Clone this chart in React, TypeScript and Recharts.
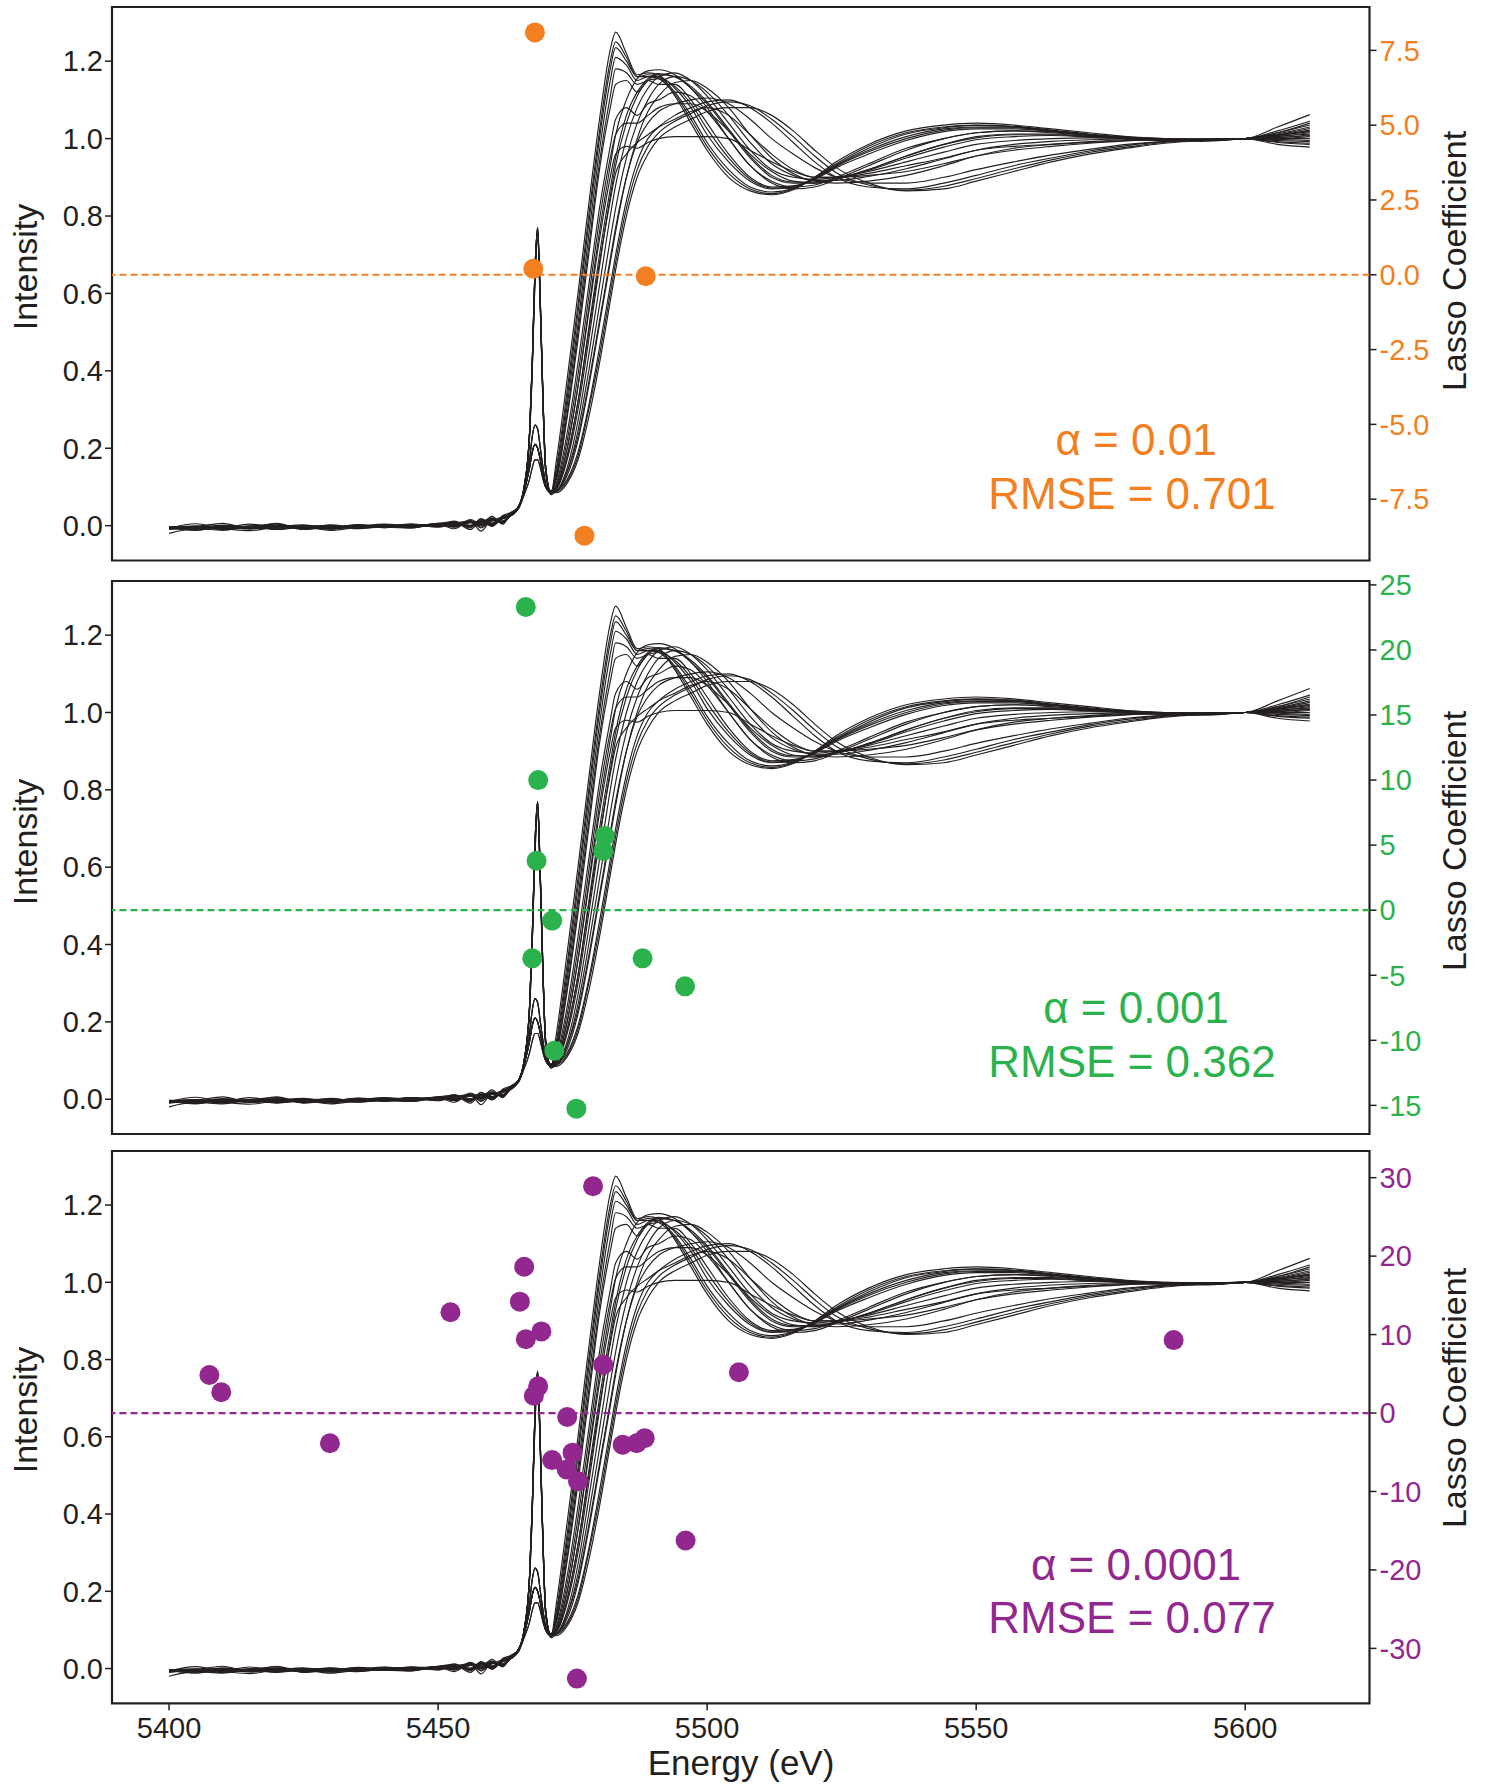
import React from 'react';
import {
    ComposedChart, Line, Scatter, XAxis, YAxis,
    ReferenceLine, ReferenceArea
} from 'recharts';

// energy grid shared by all spectra (eV)
const energies = [
    5400, 5405, 5410, 5415, 5420, 5425, 5430, 5435, 5440, 5445, 5450, 5453, 5456, 5458, 5460, 5462, 5463.5,
    5465, 5466, 5467, 5467.5, 5468, 5468.5, 5469, 5469.5, 5470, 5471,
    5472, 5474, 5476, 5478, 5480, 5482, 5483, 5485, 5487, 5489, 5491, 5494, 5497, 5500, 5504, 5508,
    5512, 5516, 5520, 5524, 5530, 5537, 5544, 5550, 5557, 5564, 5571, 5578, 5585, 5592, 5600, 5606, 5612,
];

// normalised spectra (same set in all three panels)
const specA1 = [
    -0.004, -0.002, 0.006, -0.008, -0.003, 0.002, -0.006, -0.002, -0.001, 0.003, 0.002, 0.012, -0.004, 0.018, 0.002, 0.022, 0.03,
    0.05, 0.1, 0.24, 0.42, 0.66, 0.77, 0.58, 0.33, 0.15, 0.085,
    0.17, 0.38, 0.6, 0.83, 1.05, 1.23, 1.275, 1.22, 1.165, 1.17, 1.165, 1.11, 1.04, 0.97, 0.9, 0.865,
    0.855, 0.868, 0.9, 0.94, 0.985, 1.02, 1.035, 1.04, 1.035, 1.025, 1.015, 1.005, 1.0, 0.998, 1.0, 1.03, 1.062,
];
const specA2 = [
    -0.02, -0.008, -0.012, -0.002, -0.01, -0.004, -0.012, -0.004, 0.002, -0.006, 0.004, -0.008, 0.014, -0.006, 0.02, 0.006, 0.028,
    0.048, 0.095, 0.235, 0.41, 0.65, 0.755, 0.57, 0.32, 0.14, 0.08,
    0.15, 0.35, 0.57, 0.8, 1.02, 1.2, 1.25, 1.21, 1.16, 1.165, 1.16, 1.12, 1.06, 0.99, 0.92, 0.875,
    0.862, 0.872, 0.9, 0.935, 0.98, 1.015, 1.03, 1.035, 1.032, 1.022, 1.012, 1.004, 1.0, 0.999, 1.0, 1.02, 1.045,
];
const specA3 = [
    -0.006, 0.005, -0.007, -0.001, 0.004, -0.007, 0.002, -0.005, 0.003, -0.003, 0.006, 0.01, -0.01, 0.012, 0.000, 0.026, 0.034,
    0.05, 0.09, 0.15, 0.19, 0.21, 0.2, 0.17, 0.13, 0.1, 0.085,
    0.13, 0.31, 0.52, 0.75, 0.97, 1.15, 1.21, 1.19, 1.15, 1.16, 1.16, 1.13, 1.08, 1.01, 0.94, 0.89,
    0.87, 0.875, 0.895, 0.93, 0.97, 1.005, 1.025, 1.03, 1.03, 1.02, 1.01, 1.0, 0.998, 0.997, 1.0, 1.012, 1.03,
];
const specA4 = [
    -0.01, -0.005, -0.008, -0.013, -0.004, -0.002, -0.009, 0.002, -0.005, 0.004, -0.004, 0.006, 0.012, -0.014, 0.014, 0.01, 0.026,
    0.045, 0.08, 0.12, 0.15, 0.17, 0.17, 0.15, 0.12, 0.1, 0.09,
    0.12, 0.28, 0.48, 0.7, 0.92, 1.08, 1.14, 1.15, 1.12, 1.15, 1.14, 1.14, 1.1, 1.04, 0.96, 0.9,
    0.875, 0.878, 0.895, 0.925, 0.96, 0.995, 1.018, 1.025, 1.025, 1.018, 1.008, 1.0, 0.996, 0.995, 1.0, 1.008, 1.022,
];
const specA5 = [
    -0.003, -0.008, 0.001, -0.006, 0.006, -0.01, -0.004, 0.001, -0.004, -0.006, 0.005, -0.003, 0.016, 0.004, 0.024, 0.004, 0.032,
    0.05, 0.1, 0.24, 0.42, 0.66, 0.77, 0.58, 0.33, 0.15, 0.085,
    0.14, 0.33, 0.55, 0.78, 1.0, 1.18, 1.235, 1.2, 1.16, 1.16, 1.155, 1.115, 1.05, 0.98, 0.91, 0.87,
    0.858, 0.87, 0.898, 0.932, 0.975, 1.012, 1.028, 1.034, 1.03, 1.02, 1.01, 1.003, 0.999, 0.998, 1.0, 1.015, 1.04,
];
const specA6 = [
    -0.005, -0.012, -0.002, -0.006, 0.001, -0.009, -0.001, -0.006, -0.003, 0.004, -0.002, 0.01, -0.006, 0.016, 0.000, 0.02, 0.029,
    0.05, 0.09, 0.17, 0.23, 0.26, 0.25, 0.2, 0.15, 0.11, 0.09,
    0.125, 0.29, 0.5, 0.72, 0.94, 1.11, 1.18, 1.17, 1.14, 1.15, 1.155, 1.135, 1.09, 1.025, 0.95, 0.895,
    0.872, 0.876, 0.896, 0.928, 0.966, 1.0, 1.022, 1.028, 1.028, 1.02, 1.01, 1.0, 0.997, 0.996, 1.0, 1.01, 1.026,
];
const specB1 = [
    -0.007, -0.003, -0.006, 0.004, -0.005, -0.003, 0.001, -0.007, -0.002, 0.002, 0.001, 0.007, 0.000, 0.013, -0.002, 0.02, 0.029,
    0.05, 0.1, 0.23, 0.4, 0.63, 0.74, 0.56, 0.31, 0.14, 0.085,
    0.11, 0.24, 0.42, 0.62, 0.82, 0.98, 1.05, 1.08, 1.06, 1.09, 1.1, 1.12, 1.11, 1.07, 1.0, 0.93,
    0.89, 0.875, 0.88, 0.9, 0.935, 0.975, 1.0, 1.015, 1.02, 1.015, 1.008, 1.0, 0.995, 0.993, 1.0, 1.005, 1.015,
];
const specB2 = [
    -0.005, -0.011, -0.003, -0.007, -0.002, -0.006, -0.005, 0.003, -0.002, -0.004, 0.004, -0.004, 0.012, 0.000, 0.016, 0.008, 0.027,
    0.05, 0.09, 0.15, 0.19, 0.21, 0.2, 0.17, 0.13, 0.1, 0.085,
    0.1, 0.2, 0.36, 0.55, 0.74, 0.9, 0.96, 0.98, 0.975, 0.99, 1.0, 1.005, 1.005, 1.005, 1.0, 0.97,
    0.94, 0.915, 0.9, 0.9, 0.91, 0.93, 0.95, 0.97, 0.98, 0.985, 0.99, 0.995, 0.997, 0.998, 1.0, 1.0, 1.005,
];
const specB3 = [
    -0.004, -0.001, -0.009, -0.003, 0.001, -0.002, -0.007, -0.003, 0.004, 0.000, 0.004, 0.000, 0.008, 0.012, 0.002, 0.024, 0.031,
    0.05, 0.09, 0.17, 0.23, 0.26, 0.25, 0.2, 0.15, 0.11, 0.09,
    0.1, 0.18, 0.32, 0.5, 0.68, 0.84, 0.91, 0.96, 0.99, 1.01, 1.03, 1.05, 1.07, 1.08, 1.06, 1.01,
    0.96, 0.92, 0.9, 0.9, 0.905, 0.915, 0.935, 0.955, 0.97, 0.98, 0.988, 0.994, 0.997, 0.998, 1.0, 0.995, 0.992,
];
const specB4 = [
    -0.008, -0.003, -0.005, -0.006, -0.001, -0.004, -0.009, -0.002, -0.001, -0.004, 0.006, -0.002, 0.01, 0.002, 0.015, 0.012, 0.03,
    0.05, 0.1, 0.24, 0.42, 0.655, 0.76, 0.575, 0.33, 0.15, 0.085,
    0.105, 0.22, 0.39, 0.59, 0.79, 0.95, 1.01, 1.04, 1.04, 1.06, 1.08, 1.09, 1.09, 1.07, 1.02, 0.96,
    0.915, 0.89, 0.885, 0.895, 0.92, 0.955, 0.985, 1.002, 1.01, 1.01, 1.005, 1.0, 0.996, 0.995, 1.0, 1.003, 1.008,
];
const specC1 = [
    -0.009, -0.004, 0.001, -0.004, -0.009, -0.001, -0.004, -0.002, -0.005, 0.003, 0.003, 0.009, -0.002, 0.01, 0.018, 0.006, 0.03,
    0.05, 0.1, 0.24, 0.42, 0.66, 0.77, 0.58, 0.33, 0.15, 0.085,
    0.1, 0.2, 0.36, 0.56, 0.76, 0.93, 1.01, 1.1, 1.155, 1.175, 1.178, 1.165, 1.13, 1.08, 1.0, 0.93,
    0.885, 0.87, 0.875, 0.895, 0.93, 0.97, 1.0, 1.015, 1.02, 1.018, 1.01, 1.003, 0.998, 0.996, 1.0, 1.01, 1.02,
];
const specC2 = [
    -0.005, -0.002, -0.01, -0.002, -0.004, -0.008, -0.002, -0.006, 0.001, -0.002, -0.001, 0.006, 0.01, -0.004, 0.012, 0.022, 0.025,
    0.05, 0.09, 0.15, 0.19, 0.21, 0.2, 0.17, 0.13, 0.1, 0.085,
    0.09, 0.15, 0.27, 0.44, 0.62, 0.8, 0.88, 1.0, 1.08, 1.13, 1.16, 1.17, 1.15, 1.11, 1.04, 0.97,
    0.92, 0.9, 0.895, 0.9, 0.915, 0.94, 0.965, 0.985, 0.995, 1.0, 1.002, 1.001, 0.999, 0.998, 1.0, 1.015, 1.035,
];
const specC3 = [
    -0.006, -0.007, -0.003, -0.009, -0.002, -0.003, -0.006, 0.000, -0.002, -0.003, 0.002, 0.001, 0.009, 0.011, 0.004, 0.019, 0.033,
    0.05, 0.1, 0.23, 0.4, 0.63, 0.74, 0.56, 0.31, 0.14, 0.085,
    0.09, 0.13, 0.22, 0.36, 0.52, 0.68, 0.76, 0.9, 1.0, 1.07, 1.11, 1.145, 1.15, 1.13, 1.08, 1.01,
    0.95, 0.91, 0.89, 0.885, 0.89, 0.905, 0.93, 0.955, 0.975, 0.985, 0.992, 0.997, 0.998, 0.998, 1.0, 0.99, 0.985,
];
const specC4 = [
    -0.003, -0.004, -0.006, -0.002, -0.008, -0.002, -0.003, -0.008, -0.001, 0.001, -0.002, 0.008, 0.000, 0.009, 0.014, 0.012, 0.028,
    0.045, 0.08, 0.12, 0.15, 0.17, 0.17, 0.15, 0.12, 0.1, 0.09,
    0.095, 0.17, 0.3, 0.48, 0.67, 0.85, 0.93, 1.04, 1.11, 1.15, 1.165, 1.16, 1.13, 1.09, 1.02, 0.95,
    0.9, 0.885, 0.885, 0.895, 0.92, 0.955, 0.985, 1.005, 1.012, 1.012, 1.006, 1.001, 0.998, 0.997, 1.0, 1.006, 1.012,
];
const specC5 = [
    -0.004, -0.009, -0.001, -0.003, -0.005, 0.000, -0.002, -0.005, -0.002, 0.000, 0.001, -0.001, 0.012, 0.004, 0.016, 0.01, 0.031,
    0.05, 0.1, 0.235, 0.41, 0.65, 0.76, 0.57, 0.32, 0.15, 0.085,
    0.095, 0.18, 0.32, 0.51, 0.7, 0.87, 0.95, 1.06, 1.12, 1.155, 1.168, 1.16, 1.135, 1.095, 1.025, 0.955,
    0.905, 0.888, 0.888, 0.897, 0.918, 0.95, 0.978, 0.997, 1.005, 1.008, 1.004, 1.0, 0.998, 0.997, 1.0, 1.008, 1.018,
];
const specC6 = [
    -0.006, -0.003, -0.008, -0.005, -0.003, -0.006, -0.005, -0.001, -0.004, -0.001, 0.004, 0.006, -0.002, 0.012, 0.004, 0.017, 0.026,
    0.05, 0.09, 0.15, 0.19, 0.21, 0.2, 0.17, 0.13, 0.1, 0.085,
    0.09, 0.14, 0.245, 0.4, 0.57, 0.74, 0.82, 0.95, 1.04, 1.1, 1.14, 1.16, 1.15, 1.12, 1.06, 0.99,
    0.935, 0.905, 0.892, 0.892, 0.902, 0.922, 0.948, 0.97, 0.985, 0.993, 0.997, 0.999, 0.998, 0.998, 1.0, 1.002, 1.01,
];
const specD1 = [
    -0.007, -0.006, -0.002, -0.007, -0.003, -0.005, -0.002, -0.005, -0.002, 0.002, 0.002, 0.000, 0.01, 0.006, 0.013, 0.01, 0.027,
    0.048, 0.095, 0.235, 0.41, 0.65, 0.755, 0.57, 0.32, 0.14, 0.08,
    0.09, 0.12, 0.19, 0.31, 0.46, 0.62, 0.7, 0.84, 0.94, 1.0, 1.03, 1.06, 1.08, 1.095, 1.1, 1.08,
    1.04, 0.99, 0.94, 0.9, 0.875, 0.87, 0.885, 0.905, 0.93, 0.95, 0.968, 0.982, 0.992, 0.996, 1.0, 1.0, 1.0,
];
const specD2 = [
    -0.004, -0.003, -0.008, -0.001, -0.005, -0.004, -0.004, 0.001, -0.004, -0.002, 0.005, -0.002, 0.008, 0.000, 0.018, 0.008, 0.026,
    0.05, 0.09, 0.15, 0.19, 0.21, 0.2, 0.17, 0.13, 0.1, 0.085,
    0.085, 0.11, 0.17, 0.28, 0.42, 0.58, 0.66, 0.8, 0.9, 0.96, 1.0, 1.03, 1.05, 1.07, 1.08, 1.08,
    1.06, 1.02, 0.97, 0.925, 0.885, 0.865, 0.87, 0.89, 0.915, 0.94, 0.96, 0.975, 0.988, 0.995, 1.0, 0.985, 0.978,
];
const specD3 = [
    -0.006, -0.002, -0.004, -0.005, -0.004, -0.003, -0.007, -0.002, 0.002, -0.001, 0.001, 0.009, 0.000, 0.01, 0.007, 0.022, 0.03,
    0.05, 0.09, 0.17, 0.23, 0.26, 0.25, 0.2, 0.15, 0.11, 0.09,
    0.09, 0.14, 0.23, 0.37, 0.53, 0.69, 0.77, 0.9, 0.99, 1.04, 1.07, 1.09, 1.1, 1.105, 1.09, 1.05,
    1.0, 0.96, 0.925, 0.9, 0.885, 0.885, 0.9, 0.92, 0.94, 0.958, 0.972, 0.985, 0.993, 0.997, 1.0, 0.998, 0.995,
];
const specD4 = [
    -0.005, -0.004, -0.003, -0.002, -0.008, -0.004, -0.002, -0.006, -0.001, -0.003, 0.005, 0.003, 0.001, 0.011, 0.006, 0.02, 0.028,
    0.05, 0.1, 0.24, 0.42, 0.66, 0.77, 0.58, 0.33, 0.15, 0.085,
    0.088, 0.115, 0.18, 0.3, 0.44, 0.6, 0.68, 0.82, 0.92, 0.98, 1.015, 1.045, 1.065, 1.085, 1.095, 1.085,
    1.05, 1.005, 0.955, 0.912, 0.88, 0.867, 0.877, 0.897, 0.922, 0.945, 0.964, 0.978, 0.99, 0.995, 1.0, 0.992, 0.988,
];

const spectra = [
    specA1, specA2, specA3, specA4, specA5, specA6, specB1, specB2, specB3, specB4,
    specC1, specC2, specC3, specC4, specC5, specC6, specD1, specD2, specD3, specD4,
];

// lasso coefficients per alpha
const coefEnergy1 = [5468.0, 5467.7, 5477.2, 5488.6];
const coefValue1 = [8.1, 0.2, -8.72, -0.05];

const coefEnergy2 = [5466.3, 5468.6, 5468.3, 5471.2, 5467.5, 5471.6, 5475.7, 5481.0, 5480.7, 5488.0, 5495.9];
const coefValue2 = [23.3, 10.0, 3.8, -0.8, -3.7, -10.8, -15.25, 5.7, 4.55, -3.7, -5.85];

const coefEnergy3 = [
    5407.5, 5409.7, 5429.9, 5452.3, 5466.0, 5465.2, 5466.3, 5469.2, 5468.6, 5467.8, 5474.0, 5471.2,
    5475.0, 5473.9, 5476.0, 5478.8, 5480.7, 5475.8, 5484.3, 5486.9, 5488.4, 5496.0, 5505.9, 5586.7,
];
const coefValue3 = [
    4.85, 2.65, -3.85, 12.85, 18.65, 14.2, 9.4, 10.4, 3.4, 2.2, -0.5, -6.0,
    -5.05, -7.2, -8.7, 28.9, 6.15, -33.85, -4.05, -3.85, -3.2, -16.25, 5.2, 9.3,
];

const energyTicks = [5400, 5450, 5500, 5550, 5600];
const intensityTicks = [0, 0.2, 0.4, 0.6, 0.8, 1.0, 1.2];
const coefTicks1 = [-7.5, -5, -2.5, 0, 2.5, 5, 7.5];
const coefTicks2 = [-15, -10, -5, 0, 5, 10, 15, 20, 25];
const coefTicks3 = [-30, -20, -10, 0, 10, 20, 30];

const alphaLabels = ['α = 0.01', 'α = 0.001', 'α = 0.0001'];
const rmseLabels = ['RMSE = 0.701', 'RMSE = 0.362', 'RMSE = 0.077'];

const table = energies.map((e, i) => {
    const row: Record<string, number> = { e };
    spectra.forEach((s, k) => { row['s' + k] = s[i]; });
    return row;
});

const INK = '#231f20';
const W = 1486;
const H = 1786;
const E_DOMAIN: [number, number] = [5389.4, 5623.1];
const I_DOMAIN: [number, number] = [-0.09, 1.34];

const panels = [
    {
        top: 7, bottom: 560.5, color: '#f47f20', domain: [-9.55, 8.95], ticks: coefTicks1, digits: 1,
        energy: coefEnergy1, coef: coefValue1, alphaY: 455, rmseY: 508.5, leftY: 267, rightY: 261,
    },
    {
        top: 581, bottom: 1134, color: '#2bb24c', domain: [-17.2, 25.3], ticks: coefTicks2, digits: 0,
        energy: coefEnergy2, coef: coefValue2, alphaY: 1022.5, rmseY: 1076.5, leftY: 842, rightY: 841,
    },
    {
        top: 1151, bottom: 1703.3, color: '#92278f', domain: [-37, 33.4], ticks: coefTicks3, digits: 0,
        energy: coefEnergy3, coef: coefValue3, alphaY: 1580, rmseY: 1632.5, leftY: 1410, rightY: 1398,
    },
];

const tickFont = { fontSize: 29, fill: INK };

const Panel: React.FC<{ idx: number }> = ({ idx }) => {
    const p = panels[idx];
    const last = idx === panels.length - 1;
    const pts = p.energy.map((e, i) => ({ e, c: p.coef[i] }));
    const xh = 80;

    return (
        <div style={{ position: 'absolute', left: 0, top: 0 }}>
            <ComposedChart
                width={W}
                height={H}
                data={table}
                margin={{ top: p.top, right: 0, left: 0, bottom: H - p.bottom - xh }}
            >
                <XAxis
                    dataKey="e" type="number" domain={E_DOMAIN} allowDataOverflow
                    ticks={energyTicks} height={xh} axisLine={false}
                    tickSize={7} tickMargin={7} tickLine={{ stroke: INK, strokeWidth: 1.5 }}
                    tick={last ? tickFont : false}
                    tickFormatter={(v: number) => (last ? String(v) : '')}
                />
                <YAxis
                    yAxisId="l" type="number" domain={I_DOMAIN} allowDataOverflow
                    ticks={intensityTicks} width={112} axisLine={false}
                    tickSize={7} tickMargin={2} tickLine={{ stroke: INK, strokeWidth: 1.5 }}
                    tick={tickFont} tickFormatter={(v: number) => v.toFixed(1)}
                />
                <YAxis
                    yAxisId="r" orientation="right" type="number" domain={p.domain} allowDataOverflow
                    ticks={p.ticks} width={W - 1369.5} axisLine={false}
                    tickSize={7} tickMargin={3} tickLine={{ stroke: INK, strokeWidth: 1.5 }}
                    tick={{ fontSize: 29, fill: p.color }}
                    tickFormatter={(v: number) => v.toFixed(p.digits)}
                />
                {spectra.map((_, k) => (
                    <Line
                        key={k} yAxisId="l" dataKey={'s' + k} type="monotone"
                        stroke={INK} strokeWidth={1.15} dot={false} activeDot={false}
                        isAnimationActive={false}
                    />
                ))}
                <ReferenceLine
                    yAxisId="r" y={0} stroke={p.color} strokeWidth={2.2}
                    strokeDasharray="7 4" ifOverflow="visible"
                />
                <Scatter
                    yAxisId="r" data={pts} dataKey="c" fill={p.color} isAnimationActive={false}
                    shape={(s: any) => <circle cx={s.cx} cy={s.cy} r={10} fill={p.color} />}
                />
                <ReferenceArea
                    yAxisId="l" x1={E_DOMAIN[0]} x2={E_DOMAIN[1]} y1={I_DOMAIN[0]} y2={I_DOMAIN[1]}
                    fill="none" stroke={INK} strokeWidth={2.2} ifOverflow="visible"
                />
                <text x={1136} y={p.alphaY} textAnchor="middle" fontSize={44} fill={p.color}>
                    {alphaLabels[idx]}
                </text>
                <text x={1132} y={p.rmseY} textAnchor="middle" fontSize={44} fill={p.color}>
                    {rmseLabels[idx]}
                </text>
                <text transform={`translate(36.5, ${p.leftY}) rotate(-90)`} textAnchor="middle" fontSize={34} fill={INK}>
                    Intensity
                </text>
                <text transform={`translate(1466, ${p.rightY}) rotate(-90)`} textAnchor="middle" fontSize={34} fill={INK}>
                    Lasso Coefficient
                </text>
                {last && (
                    <text x={741} y={1775} textAnchor="middle" fontSize={35} fill={INK}>
                        Energy (eV)
                    </text>
                )}
            </ComposedChart>
        </div>
    );
};

const App: React.FC = () => (
    <div
        style={{
            position: 'absolute', left: 0, top: 0, width: W, height: H,
            background: '#fff', fontFamily: '"Liberation Sans", Arial, sans-serif',
        }}
    >
        {panels.map((_, i) => <Panel key={i} idx={i} />)}
    </div>
);

export default App;
